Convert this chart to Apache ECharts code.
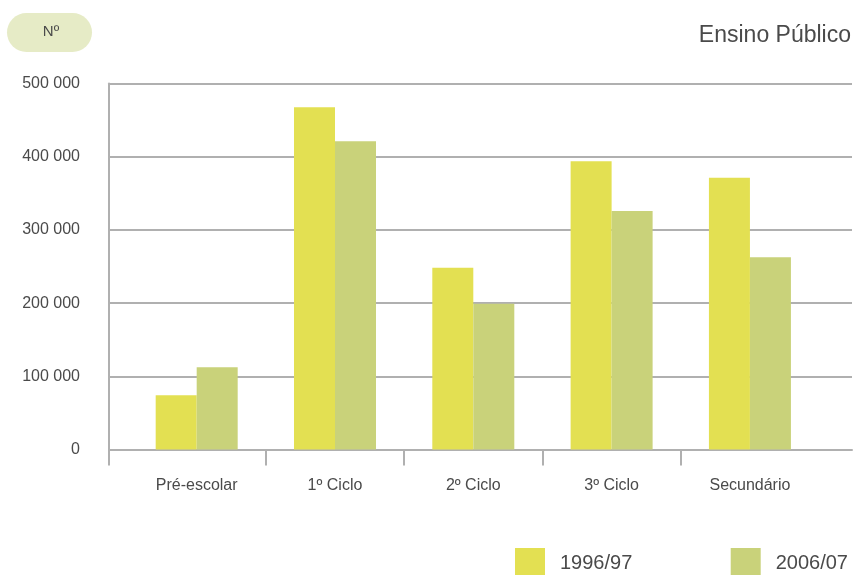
<!DOCTYPE html>
<html>
<head>
<meta charset="utf-8">
<script src="https://cdn.jsdelivr.net/npm/echarts@6/dist/echarts.min.js"></script>
<style>
  html, body { margin: 0; padding: 0; background: #fff; }
  #chart { width: 854px; height: 575px; }
</style>
</head>
<body>
<div id="chart"></div>
<script>
// Alunos no ensino público, por nível de ensino
const categories = ['Pré-escolar', '1º Ciclo', '2º Ciclo', '3º Ciclo', 'Secundário'];
const seriesNames = ['1996/97', '2006/07'];
const values1996 = [74000, 467500, 248400, 393700, 371300];
const values2006 = [112300, 421000, 199200, 325800, 262600];
const yTicks = [0, 100000, 200000, 300000, 400000, 500000];

const FONT = '"Liberation Sans", Arial, Helvetica, sans-serif';
const TEXT = '#4a4a4a';
const LINE = '#b0b0b0';
const YELLOW = '#e3e052';
const GREEN = '#c9d27a';

// category index -> x position on a numeric axis, so the axis line can run past the bars
const catPoints = values => values.map((v, i) => [i, v]);
const categoryEdges = categories.slice(1).map((_, i) => i + 0.5);
const X_MIN = -0.634, X_MAX = 4.738;

const fmtThousands = v => String(v).replace(/\B(?=(\d{3})+(?!\d))/g, ' ');

const chart = echarts.init(document.getElementById('chart'), null, { renderer: 'canvas' });

const legendFor = (name, left) => ({
  data: [name],
  left: left, top: 548,
  padding: 0,
  itemWidth: 30, itemHeight: 30,
  icon: 'rect',
  textStyle: { color: TEXT, fontSize: 20, fontFamily: FONT, padding: [0, 0, 6, 10] }
});

chart.setOption({
  animation: false,
  backgroundColor: '#fff',
  textStyle: { fontFamily: FONT },
  grid: { left: 109, right: 2, top: 83.5, bottom: 125.5, containLabel: false },
  xAxis: {
    type: 'value',
    min: X_MIN,
    max: X_MAX,
    axisLine: { show: true, onZero: false, lineStyle: { color: LINE, width: 2 } },
    axisTick: {
      show: true,
      customValues: [X_MIN].concat(categoryEdges),
      length: 16,
      lineStyle: { color: LINE, width: 2 }
    },
    axisLabel: {
      show: true,
      customValues: categories.map((_, i) => i),
      formatter: v => categories[Math.round(v)] || '',
      color: TEXT,
      fontFamily: FONT,
      fontSize: 16,
      margin: 28
    },
    splitLine: { show: false }
  },
  yAxis: {
    type: 'value',
    min: yTicks[0],
    max: yTicks[yTicks.length - 1],
    interval: yTicks[1] - yTicks[0],
    axisLine: { show: true, onZero: false, lineStyle: { color: LINE, width: 2 } },
    axisTick: { show: false },
    axisLabel: {
      color: TEXT,
      fontFamily: FONT,
      fontSize: 16,
      margin: 29,
      formatter: v => fmtThousands(v)
    },
    splitLine: { show: true, lineStyle: { color: LINE, width: 2 } }
  },
  legend: [legendFor(seriesNames[0], 515), legendFor(seriesNames[1], 730.7)],
  graphic: [
    {
      type: 'rect',
      shape: { x: 7, y: 13, width: 85, height: 39, r: 19.5 },
      style: { fill: '#e6ebc6' },
      silent: true
    },
    {
      type: 'text',
      x: 51, y: 32,
      style: {
        text: 'Nº', fill: TEXT, font: '15px ' + FONT,
        textAlign: 'center', textVerticalAlign: 'middle'
      },
      silent: true
    },
    {
      type: 'text',
      x: 851, y: 35.5,
      style: {
        text: 'Ensino Público', fill: TEXT, font: '23px ' + FONT,
        textAlign: 'right', textVerticalAlign: 'middle'
      },
      silent: true
    }
  ],
  series: [
    {
      name: seriesNames[0],
      type: 'bar',
      data: catPoints(values1996),
      barWidth: 41,
      barGap: '0%',
      itemStyle: { color: YELLOW },
      emphasis: { disabled: true }
    },
    {
      name: seriesNames[1],
      type: 'bar',
      data: catPoints(values2006),
      barWidth: 41,
      barGap: '0%',
      itemStyle: { color: GREEN },
      emphasis: { disabled: true }
    }
  ]
});
</script>
</body>
</html>
